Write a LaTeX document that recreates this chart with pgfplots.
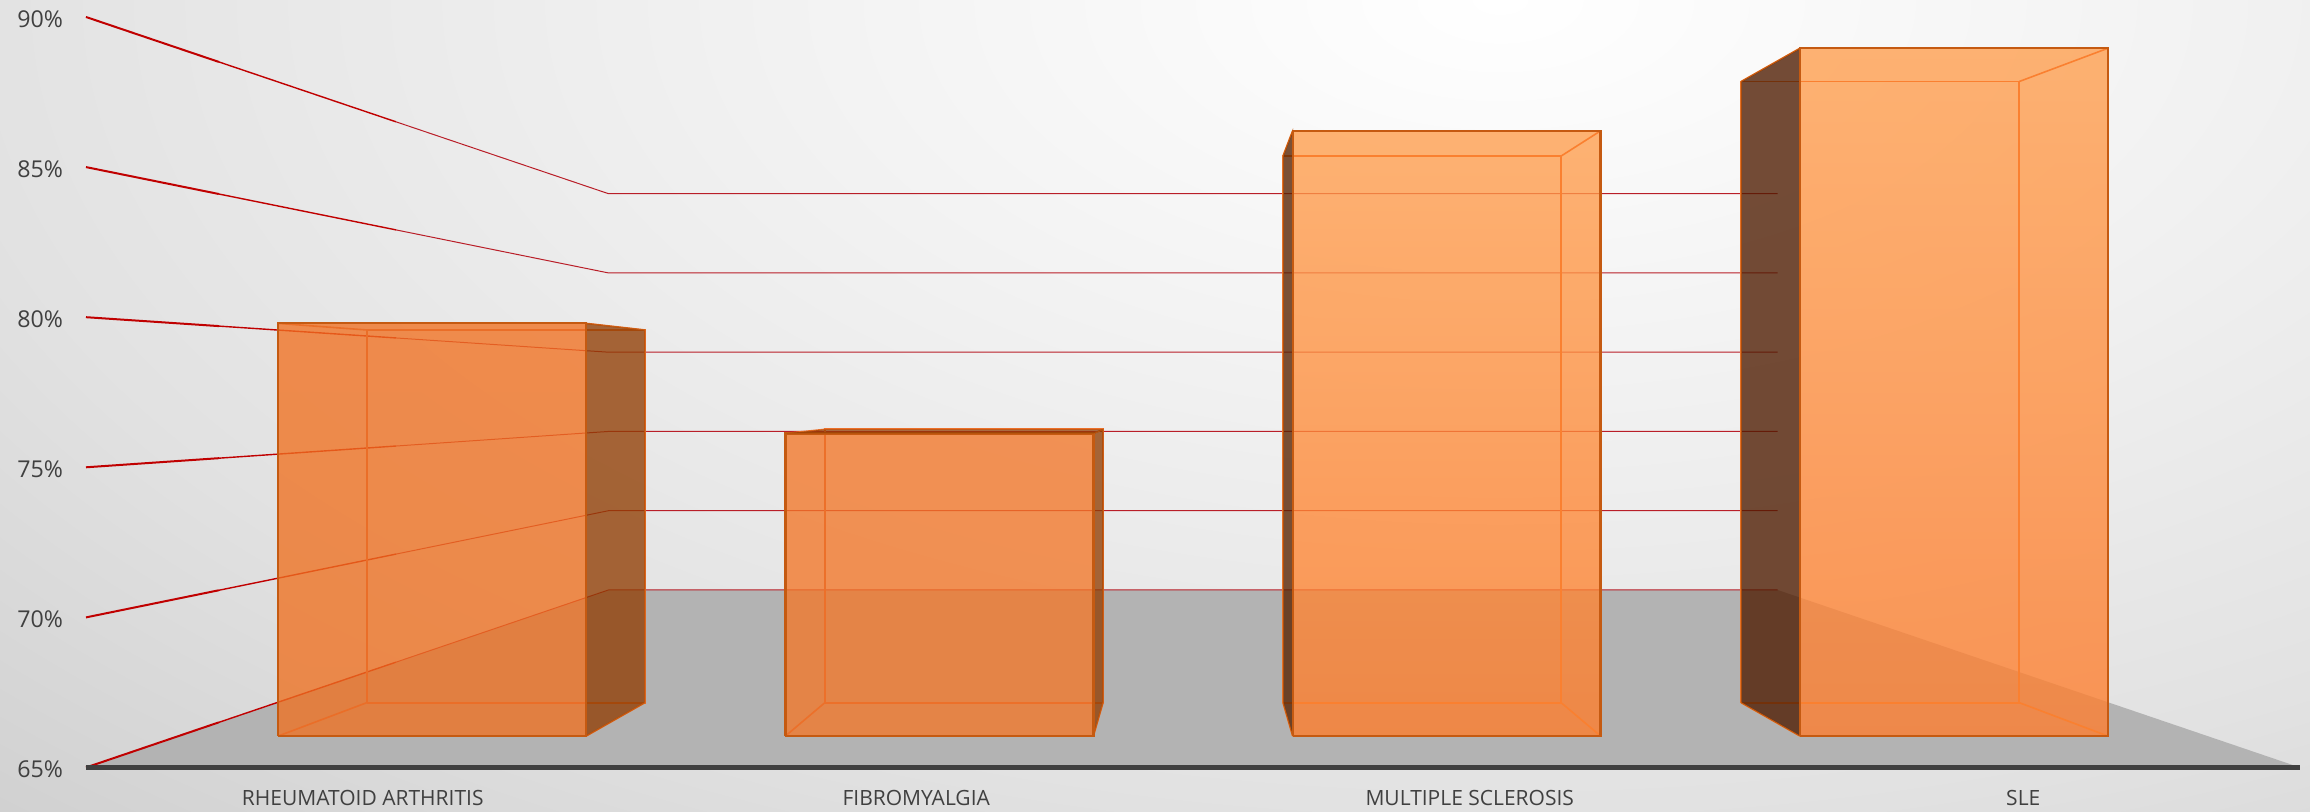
\documentclass[border=0pt]{standalone}
\usepackage{pgfplots}
\pgfplotsset{compat=1.18}
\usepackage{fontspec}
\setmainfont{Open Sans}
\definecolor{txt}{HTML}{404040}
\definecolor{edge}{HTML}{C55A11}
\definecolor{gridfront}{HTML}{C00000}
\definecolor{gridback}{RGB}{185,30,40}
\definecolor{floorc}{RGB}{179,179,179}
\definecolor{aT}{RGB}{241,113,33}\definecolor{aB}{RGB}{238,113,33}
\definecolor{bT}{RGB}{243,119,41}\definecolor{bB}{RGB}{243,119,41}
\definecolor{cT}{RGB}{255,158,77}\definecolor{cB}{RGB}{255,124,41}
\definecolor{dT}{RGB}{255,158,77}\definecolor{dB}{RGB}{255,125,45}
\definecolor{aS}{RGB}{145,62,4}\definecolor{bS}{RGB}{145,62,4}
\definecolor{cS}{RGB}{88,34,0}\definecolor{dS}{RGB}{78,27,0}
\definecolor{aI}{RGB}{234,110,40}\definecolor{bI}{RGB}{236,112,42}
\definecolor{cI}{RGB}{250,128,48}\definecolor{dI}{RGB}{250,128,48}
\pgfdeclareradialshading{bgs}{\pgfpoint{0bp}{0bp}}{%
  rgb(0bp)=(1,1,1);rgb(8.3bp)=(0.945,0.945,0.945);rgb(16.7bp)=(0.885,0.885,0.885);rgb(25bp)=(0.80,0.80,0.80);rgb(50bp)=(0.80,0.80,0.80)}
% perspective of the chart: c = category, o = bar side, v = value, s = depth scale
\def\Sf{0.9163}
\def\Sb{0.8278}
\def\Sw{0.528}
\newcommand\face[2]{\addplot[#1] table[
  x expr=1.5+(\thisrow{c}+\thisrow{o}*0.3036-1.5)*\thisrow{s},
  y expr=77.53+(\thisrow{v}-77.53)*\thisrow{s},
  row sep=\\]{c o v s\\ #2};}
\newcommand\gridv[1]{%
  \face{gridfront,line width=1pt}{-0.5 0 #1 1\\ -0.5 0 #1 0.88\\}
  \face{gridfront,line width=0.7pt}{-0.5 0 #1 0.88\\ -0.5 0 #1 0.72\\}
  \face{gridback,line width=0.5pt}{-0.5 0 #1 0.72\\ -0.5 0 #1 \Sw\\ 3.5 0 #1 \Sw\\}
}
% #1 cat, #2 value, #3 letter of colours, #4 side (+1 right, -1 left)
\newcommand\barbox[4]{%
  \face{top color=#3T,bottom color=#3B,fill opacity=0.78,draw=none}
    {#1 -1 65 \Sf\\ #1 1 65 \Sf\\ #1 1 #2 \Sf\\ #1 -1 #2 \Sf\\ #1 -1 65 \Sf\\}
  \face{draw=#3I,line width=0.95pt}
    {#1 -1 65 \Sb\\ #1 1 65 \Sb\\ #1 1 #2 \Sb\\ #1 -1 #2 \Sb\\ #1 -1 65 \Sb\\}
  \face{draw=#3I,line width=0.8pt}{#1 -1 65 \Sb\\ #1 -1 65 \Sf\\}
  \face{draw=#3I,line width=0.8pt}{#1 1 65 \Sb\\ #1 1 65 \Sf\\}
  \face{draw=#3I,line width=0.8pt}{#1 -1 #2 \Sb\\ #1 -1 #2 \Sf\\}
  \face{draw=#3I,line width=0.8pt}{#1 1 #2 \Sb\\ #1 1 #2 \Sf\\}
  \face{fill=#3S,fill opacity=0.78,draw=edge,line width=0.5pt}
    {#1 #4 65 \Sf\\ #1 #4 65 \Sb\\ #1 #4 #2 \Sb\\ #1 #4 #2 \Sf\\ #1 #4 65 \Sf\\}
  \face{draw=edge,line width=1.1pt,line join=miter}
    {#1 -1 65 \Sf\\ #1 1 65 \Sf\\ #1 1 #2 \Sf\\ #1 -1 #2 \Sf\\ #1 -1 65 \Sf\\}
}
\newcommand\topface[3]{%
  \face{fill=#3S,fill opacity=0.7,draw=none}
    {#1 -1 #2 \Sf\\ #1 1 #2 \Sf\\ #1 1 #2 \Sb\\ #1 -1 #2 \Sb\\ #1 -1 #2 \Sf\\}
}
\begin{document}
\begin{tikzpicture}
\useasboundingbox (0pt,0pt) rectangle (1155pt,406pt);
\begin{scope}
\clip (0pt,0pt) rectangle (1155pt,406pt);
\shade[shading=bgs] (750pt,406pt) ellipse (1170pt and 609pt);
\end{scope}
\begin{axis}[
  at={(43pt,22.25pt)},anchor=south west,
  scale only axis,width=1107pt,height=375.25pt,
  xmin=-0.5,xmax=3.5,ymin=65,ymax=90,
  clip=false,
  axis line style={draw=none},
  tick style={draw=none},
  xtick={0,1,2,3},
  xticklabels={RHEUMATOID ARTHRITIS,FIBROMYALGIA,MULTIPLE SCLEROSIS,SLE},
  ytick={65,70,75,80,85,90},
  yticklabels={65\%,70\%,75\%,80\%,85\%,90\%},
  xticklabel style={font=\fontsize{10.5}{12}\selectfont,text=txt,yshift=-8pt},
  yticklabel style={font=\fontsize{11.6}{13}\selectfont,text=txt,xshift=-8pt,yshift=-1pt},
  every axis plot/.append style={no markers,forget plot},
]
\face{fill=floorc,draw=none}{-0.5 0 65 1\\ 3.5 0 65 1\\ 3.5 0 65 \Sw\\ -0.5 0 65 \Sw\\ -0.5 0 65 1\\}
\gridv{65}\gridv{70}\gridv{75}\gridv{80}\gridv{85}\gridv{90}
\face{draw=txt,line width=2.2pt}{-0.5 0 65 1\\ 3.5 0 65 1\\}
\barbox{0}{80}{a}{1}
\barbox{1}{76}{b}{1}
\topface{1}{76}{b}
\barbox{2}{87}{c}{-1}
\barbox{3}{90}{d}{-1}
\end{axis}
\end{tikzpicture}
\end{document}
